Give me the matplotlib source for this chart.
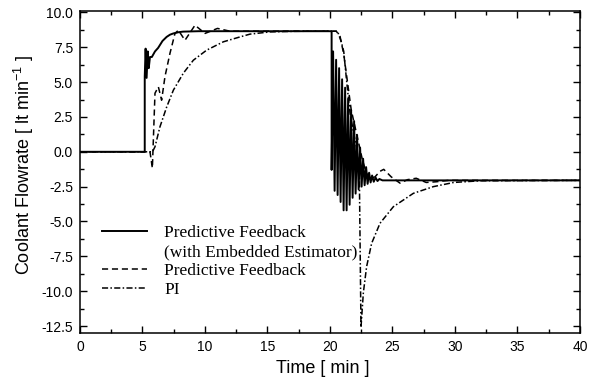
import matplotlib
matplotlib.use('Agg')  # Non-interactive backend
import matplotlib.pyplot as plt
from matplotlib.ticker import MultipleLocator
from matplotlib.lines import Line2D

plt.rcParams['mathtext.fontset'] = 'custom'
plt.rcParams['mathtext.rm'] = 'Liberation Sans'
plt.rcParams['mathtext.it'] = 'Liberation Sans:italic'

# Predictive feedback with embedded estimator (solid)
t_pfe = [0, 5.18, 5.18, 5.25, 5.33, 5.42, 5.5, 5.6, 5.75, 6.0, 6.25, 6.6, 6.93, 7.2, 7.47,
         7.9, 8.25, 9.5,
         20.13, 20.13, 20.25, 20.37, 20.49, 20.61, 20.73, 20.85, 20.97, 21.09, 21.21,
         21.33, 21.45, 21.57, 21.69, 21.81, 21.93, 22.05, 22.17, 22.29, 22.41, 22.53,
         22.65, 22.77, 22.89, 23.01, 23.13, 23.25, 23.37, 23.5, 23.65, 23.8, 23.95,
         24.2, 40]
y_pfe = [0, 0, 5.4, 7.4, 5.3, 7.2, 6.0, 6.8, 6.8, 7.2, 7.45, 7.95, 8.24, 8.4, 8.49,
         8.58, 8.62, 8.65,
         8.65, -1.3, 7.2, -2.8, 6.6, -3.1, 6.0, -3.6, 5.2, -4.2, 4.6, -4.2, 3.8,
         -3.8, 3.0, -3.3, 2.2, -3.0, 1.2, -2.7, 0.3, -2.5, -0.5, -2.4, -1.1, -2.3,
         -1.5, -2.2, -1.7, -2.15, -1.85, -2.1, -1.95, -2.05, -2.05]

# Predictive feedback (dashed)
t_pf = [0, 5.6, 5.79, 6.0, 6.27, 6.53, 6.8, 7.2, 7.6, 7.87, 8.4, 9.2, 10.0, 11.0, 12.0,
        20.5, 20.8, 21.1, 21.4, 21.7, 22.0, 22.3, 22.6, 22.9, 23.2, 23.6, 24.0, 24.3,
        24.9, 25.6, 26.2, 26.9, 27.7, 28.5, 29.5, 40]
y_pf = [0, 0, -1.17, 4.2, 4.66, 3.7, 5.4, 7.07, 8.49, 8.72, 8.0, 9.08, 8.49, 8.85, 8.65,
        8.65, 8.3, 7.0, 5.0, 3.0, 1.8, 0.6, -0.6, -1.5, -1.9, -1.8, -1.4, -1.26,
        -1.8, -2.25, -2.0, -1.9, -2.2, -2.15, -2.05, -2.05]

# PI controller (dash-dot)
t_pi = [0, 5.8, 6.0, 6.4, 6.93, 7.47, 8.27, 9.07, 10.13, 11.47, 12.8, 13.6, 15.2, 17.0,
        18.4, 20.6, 20.9, 21.1, 21.35, 21.6, 21.9, 22.15, 22.35, 22.48, 22.67, 22.93,
        23.33, 24.0, 25.07, 26.67, 28.27, 29.9, 32.0, 40]
y_pi = [0, 0, 0.36, 1.8, 3.2, 4.42, 5.64, 6.57, 7.29, 7.89, 8.24, 8.44, 8.6, 8.64,
        8.65, 8.65, 7.9, 7.2, 4.9, 2.8, 1.3, 0.2, -1.8, -12.6, -10.1, -8.24,
        -6.57, -5.13, -3.94, -2.98, -2.5, -2.2, -2.08, -2.05]

solid = dict(color='black', linewidth=1.4, linestyle='-')
dashed = dict(color='black', linewidth=1.1, linestyle=(0, (4, 2.5)))
dashdot = dict(color='black', linewidth=1.1, linestyle=(0, (4, 1.5, 1, 1.5)))

fig = plt.figure(figsize=(5.89, 3.87), dpi=100)
ax = fig.add_axes([0.1358, 0.1395, 0.8489, 0.8321])

ax.plot(t_pfe, y_pfe, **solid)
ax.plot(t_pf, y_pf, **dashed)
ax.plot(t_pi, y_pi, **dashdot)

ax.set_xlim(0, 40)
ax.set_ylim(-13, 10.1)
ax.xaxis.set_major_locator(MultipleLocator(5))
ax.xaxis.set_minor_locator(MultipleLocator(2.5))
ax.yaxis.set_major_locator(MultipleLocator(2.5))
ax.yaxis.set_minor_locator(MultipleLocator(1.25))
ax.yaxis.set_major_formatter(plt.FormatStrFormatter('%.1f'))
ax.tick_params(which='both', direction='in', top=True, right=True,
               labelsize=10, width=1, labelfontfamily='Liberation Sans')
ax.tick_params(which='major', length=5, pad=5)
ax.tick_params(which='minor', length=3)
for s in ax.spines.values():
    s.set_linewidth(1.1)

ax.set_xlabel('Time [ min ]', fontsize=13, family='Liberation Sans')
ax.set_ylabel('Coolant Flowrate [ lt min$^{\\mathrm{-1}}$ ]', fontsize=13,
              family='Liberation Sans')
ax.xaxis.set_label_coords(0.486, -0.085)
ax.yaxis.set_label_coords(-0.088, 0.52)

handles = [
    Line2D([], [], **solid),
    Line2D([], [], color='none'),
    Line2D([], [], **dashed),
    Line2D([], [], **dashdot),
]
labels = ['Predictive Feedback', '(with Embedded Estimator)', 'Predictive Feedback', 'PI']
ax.legend(handles, labels, loc='upper left', bbox_to_anchor=(0.012, 0.384),
          frameon=False, handlelength=2.6, handletextpad=1.0, labelspacing=0.16,
          prop={'family': 'Liberation Serif', 'size': 12.5})

plt.savefig('out.png', dpi=100)
plt.close(fig)
